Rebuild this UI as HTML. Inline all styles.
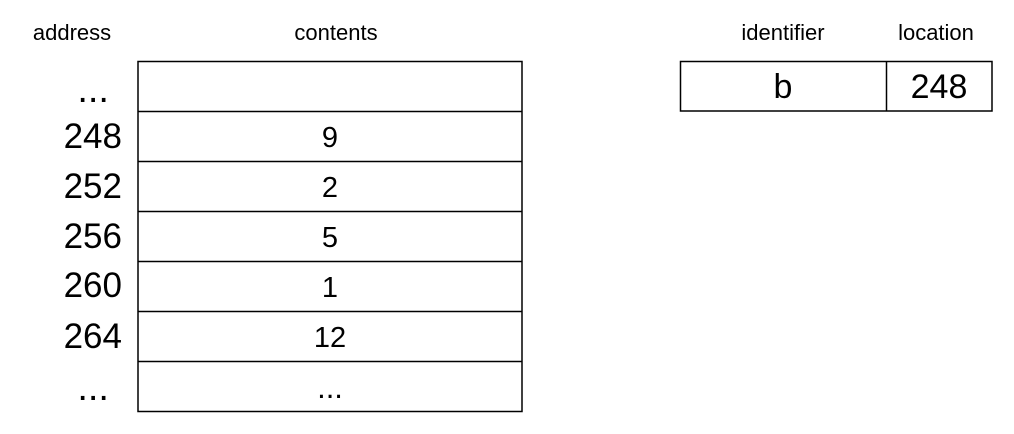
<!DOCTYPE html>
<html><head><meta charset="utf-8"><style>
html,body{margin:0;padding:0;background:#fff;width:1014px;height:434px;overflow:hidden}
svg text{font-family:"Liberation Sans",sans-serif;fill:#000}
</style></head><body>
<svg width="1014" height="434" xmlns="http://www.w3.org/2000/svg">
<g stroke="#000" stroke-width="1.5" fill="none">
<rect x="138" y="61.5" width="384" height="350"/>
<line x1="138" y1="111.5" x2="522" y2="111.5"/>
<line x1="138" y1="161.5" x2="522" y2="161.5"/>
<line x1="138" y1="211.5" x2="522" y2="211.5"/>
<line x1="138" y1="261.5" x2="522" y2="261.5"/>
<line x1="138" y1="311.5" x2="522" y2="311.5"/>
<line x1="138" y1="361.5" x2="522" y2="361.5"/>
<rect x="680.5" y="61.5" width="311.5" height="49.5"/>
<line x1="886.5" y1="61.5" x2="886.5" y2="111"/>
</g>
<g font-size="22" text-anchor="middle">
<text x="72" y="40">address</text>
<text x="336" y="40">contents</text>
<text x="783" y="40">identifier</text>
<text x="936" y="40">location</text>
</g>
<g font-size="35" text-anchor="end">
<text x="109" y="102" font-size="38">...</text>
<text x="122" y="148">248</text>
<text x="122" y="198">252</text>
<text x="122" y="248">256</text>
<text x="122" y="297">260</text>
<text x="122" y="348">264</text>
<text x="109" y="400" font-size="38">...</text>
</g>
<g font-size="29" text-anchor="middle">
<text x="330" y="147">9</text>
<text x="330" y="197">2</text>
<text x="330" y="247">5</text>
<text x="330" y="297">1</text>
<text x="330" y="347">12</text>
<text x="330" y="398" font-size="31">...</text>
<text x="783" y="98" font-size="34">b</text>
<text x="939" y="98" font-size="34">248</text>
</g>
</svg>
</body></html>
